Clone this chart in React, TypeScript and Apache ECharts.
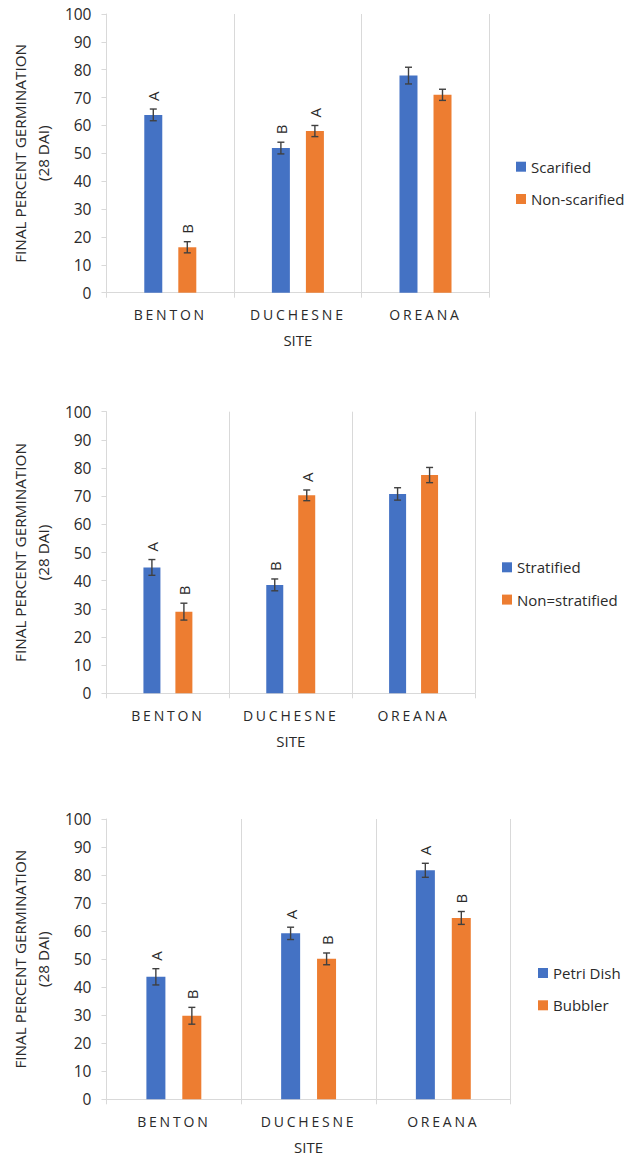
import React, { useEffect, useRef } from 'react';
import * as echarts from 'echarts';

const sites = ['BENTON', 'DUCHESNE', 'OREANA'];

const scarified = [63.8, 51.9, 77.9];
const scarifiedErr = [2.1, 2.1, 3.0];
const scarifiedLetters = ['A', 'B', ''];
const nonScarified = [16.3, 58.0, 71.0];
const nonScarifiedErr = [2.0, 2.0, 2.0];
const nonScarifiedLetters = ['B', 'A', ''];

const stratified = [44.7, 38.5, 70.8];
const stratifiedErr = [2.8, 2.1, 2.2];
const stratifiedLetters = ['A', 'B', ''];
const nonStratified = [29.0, 70.3, 77.5];
const nonStratifiedErr = [3.0, 1.9, 2.7];
const nonStratifiedLetters = ['B', 'A', ''];

const petriDish = [43.7, 59.2, 81.7];
const petriDishErr = [2.9, 2.2, 2.5];
const petriDishLetters = ['A', 'A', 'A'];
const bubbler = [29.8, 50.1, 64.7];
const bubblerErr = [3.0, 2.1, 2.3];
const bubblerLetters = ['B', 'B', 'B'];

const BLUE = '#4472C4';
const ORANGE = '#ED7D31';
const TEXT = '#2a2a2a';
const CAT_TEXT = '#2a2a2b';
const LINE = '#D9D9D9';
const FONT = '"Open Sans", sans-serif';

const panels = [
  {
    grid: { left: 97.3, top: 14, width: 392, height: 278.7 },
    names: ['Scarified', 'Non-scarified'],
    values: [scarified, nonScarified],
    errs: [scarifiedErr, nonScarifiedErr],
    letters: [scarifiedLetters, nonScarifiedLetters],
    barWidth: 18, gap: 16,
    legend: { left: 516, top: 158.7 },
    yNameGap: 43.5,
  },
  {
    grid: { left: 99, top: 411.7, width: 376, height: 281.6 },
    names: ['Stratified', 'Non=stratified'],
    values: [stratified, nonStratified],
    errs: [stratifiedErr, nonStratifiedErr],
    letters: [stratifiedLetters, nonStratifiedLetters],
    barWidth: 17, gap: 15,
    legend: { left: 502, top: 559.3 },
    yNameGap: 44,
  },
  {
    grid: { left: 92.7, top: 819, width: 418, height: 280.3 },
    names: ['Petri Dish', 'Bubbler'],
    values: [petriDish, bubbler],
    errs: [petriDishErr, bubblerErr],
    letters: [petriDishLetters, bubblerLetters],
    barWidth: 19, gap: 17,
    legend: { left: 538, top: 965 },
    yNameGap: 44.5,
  },
];

function errorSeries(idx: number, values: number[], errs: number[], letters: string[], offset: number) {
  return {
    type: 'custom',
    xAxisIndex: idx,
    yAxisIndex: idx,
    data: values.map((v, i) => [i, v, errs[i]]),
    encode: { x: 0, y: 1 },
    clip: false,
    silent: true,
    z: 10,
    renderItem: (params: any, api: any) => {
      const i = api.value(0);
      const v = api.value(1);
      const e = api.value(2);
      const hi = api.coord([i, v + e]);
      const lo = api.coord([i, v - e]);
      const x = hi[0] + offset;
      const cap = 3.5;
      const style = { stroke: '#404040', lineWidth: 1.4 };
      const children: any[] = [
        { type: 'line', shape: { x1: x, y1: hi[1], x2: x, y2: lo[1] }, style },
        { type: 'line', shape: { x1: x - cap, y1: hi[1], x2: x + cap, y2: hi[1] }, style },
        { type: 'line', shape: { x1: x - cap, y1: lo[1], x2: x + cap, y2: lo[1] }, style },
      ];
      const letter = letters[params.dataIndex];
      if (letter) {
        children.push({
          type: 'text',
          x: x,
          y: hi[1] - 8,
          rotation: Math.PI / 2,
          style: {
            text: letter,
            fill: TEXT,
            fontSize: 15,
            fontFamily: FONT,
            align: 'left',
            verticalAlign: 'middle',
          },
        });
      }
      return { type: 'group', children };
    },
  };
}

export default function App() {
  const ref = useRef<HTMLDivElement>(null);
  useEffect(() => {
    if (!ref.current) return;
    const chart = echarts.init(ref.current, undefined, { renderer: 'svg' });
    const grid: any[] = [];
    const xAxis: any[] = [];
    const yAxis: any[] = [];
    const legend: any[] = [];
    const series: any[] = [];
    panels.forEach((p, idx) => {
      grid.push({ ...p.grid, containLabel: false });
      xAxis.push({
        type: 'category',
        gridIndex: idx,
        data: sites,
        axisLine: { lineStyle: { color: LINE, width: 1 } },
        axisTick: { show: true, length: 5, lineStyle: { color: LINE } },
        splitLine: { show: true, lineStyle: { color: LINE, width: 1 } },
        axisLabel: { color: CAT_TEXT, fontSize: 14, fontFamily: FONT, margin: 15 },
        name: 'SITE',
        nameLocation: 'middle',
        nameGap: 40,
        nameTextStyle: { color: TEXT, fontSize: 15, fontFamily: FONT },
      });
      yAxis.push({
        type: 'value',
        gridIndex: idx,
        min: 0,
        max: 100,
        interval: 10,
        axisLine: { show: true, lineStyle: { color: LINE, width: 1 } },
        axisTick: { show: true, length: 5, lineStyle: { color: LINE } },
        splitLine: { show: false },
        axisLabel: { color: TEXT, fontSize: 15.5, fontFamily: FONT, margin: 15 },
        name: 'FINAL PERCENT GERMINATION\n(28 DAI)',
        nameLocation: 'middle',
        nameRotate: 90,
        nameGap: p.yNameGap,
        nameTextStyle: { color: TEXT, fontSize: 15.3, fontFamily: FONT, lineHeight: 23, align: 'center' },
      });
      legend.push({
        data: p.names,
        orient: 'vertical',
        left: p.legend.left,
        top: p.legend.top,
        itemWidth: 10,
        itemHeight: 10,
        itemGap: 16.3,
        icon: 'rect',
        selectedMode: false,
        padding: 0,
        textStyle: { color: TEXT, fontSize: 15, fontFamily: FONT, lineHeight: 16 },
      });
      const off = (p.barWidth + p.gap) / 2;
      const colors = [BLUE, ORANGE];
      p.names.forEach((name, k) => {
        series.push({
          type: 'bar',
          name,
          xAxisIndex: idx,
          yAxisIndex: idx,
          data: p.values[k],
          barWidth: p.barWidth,
          barGap: Math.round((p.gap / p.barWidth) * 100) + '%',
          itemStyle: { color: colors[k] },
        });
      });
      series.push(errorSeries(idx, p.values[0], p.errs[0], p.letters[0], -off));
      series.push(errorSeries(idx, p.values[1], p.errs[1], p.letters[1], off));
    });
    chart.setOption({
      animation: false,
      backgroundColor: '#ffffff',
      grid,
      xAxis,
      yAxis,
      legend,
      series,
    });
    return () => chart.dispose();
  }, []);
  return (
    <>
      <style>{`text[fill="${CAT_TEXT}"], text[fill="${CAT_TEXT.toUpperCase()}"], text[style*="${CAT_TEXT}"] { letter-spacing: 2.8px; }`}</style>
      <div
        ref={ref}
        style={{ position: 'absolute', left: 0, top: 0, width: 624, height: 1156 }}
      />
    </>
  );
}
